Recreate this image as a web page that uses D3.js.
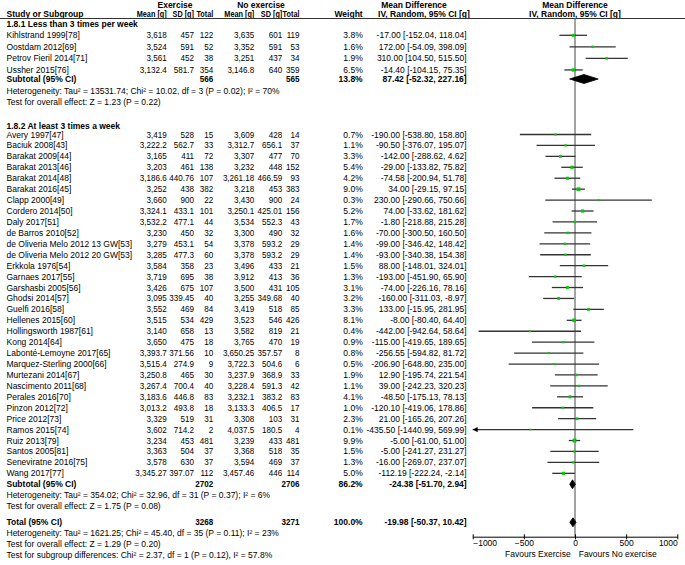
<!DOCTYPE html>
<html>
<head>
<meta charset="utf-8">
<script src="https://cdn.jsdelivr.net/npm/d3@7"></script>
<style>
  html, body { margin: 0; padding: 0; background: #fff; }
  svg text { font-family: "Liberation Sans", Arial, sans-serif; font-size: 8.5px; fill: #000; }
</style>
</head>
<body>
<svg id="chart" width="685" height="565"></svg>
<script>
// ---------------- DATA ----------------
const groupTitles = ["1.8.1 Less than 3 times per week", "1.8.2 At least 3 times a week"];
const studyGroup = [0,0,0,0, 1,1,1,1,1,1,1,1,1,1,1,1,1,1,1,1,1,1,1,1,1,1,1,1,1,1,1,1,1,1,1,1];
const studyNames = [
  "Kihlstrand 1999[78]", "Oostdam 2012[69]", "Petrov Fieril 2014[71]", "Ussher 2015[76]",
  "Avery 1997[47]", "Baciuk 2008[43]", "Barakat 2009[44]", "Barakat 2013[46]", "Barakat 2014[48]",
  "Barakat 2016[45]", "Clapp 2000[49]", "Cordero 2014[50]", "Daly 2017[51]", "de Barros 2010[52]",
  "de Oliveria Melo 2012 13 GW[53]", "de Oliveria Melo 2012 20 GW[53]", "Erkkola 1976[54]",
  "Garnaes 2017[55]", "Garshasbi 2005[56]", "Ghodsi 2014[57]", "Guelfi 2016[58]", "Hellenes 2015[60]",
  "Hollingsworth 1987[61]", "Kong 2014[64]", "Labonté-Lemoyne 2017[65]", "Marquez-Sterling 2000[66]",
  "Murtezani 2014[67]", "Nascimento 2011[68]", "Perales 2016[70]", "Pinzon 2012[72]", "Price 2012[73]",
  "Ramos 2015[74]", "Ruiz 2013[79]", "Santos 2005[81]", "Seneviratne 2016[75]", "Wang 2017[77]"
];
const exMean = [3618, 3524, 3561, 3132.4,
  3419, 3222.2, 3165, 3203, 3186.6, 3252, 3660, 3324.1, 3532.2, 3230, 3279, 3285, 3584,
  3719, 3426, 3095, 3552, 3515, 3140, 3650, 3393.7, 3515.4, 3250.8, 3267.4, 3183.6, 3013.2, 3329,
  3602, 3234, 3363, 3578, 3345.27];
const exSD = [457, 591, 452, 581.7,
  528, 562.7, 411, 461, 440.76, 438, 900, 433.1, 477.1, 450, 453.1, 477.3, 358,
  695, 675, 339.45, 469, 534, 658, 475, 371.56, 274.9, 465, 700.4, 446.8, 493.8, 519,
  714.2, 453, 504, 630, 397.07];
const exN = [122, 52, 38, 354,
  15, 33, 72, 138, 107, 382, 22, 101, 44, 32, 54, 60, 23,
  38, 107, 40, 84, 429, 13, 18, 10, 9, 30, 40, 83, 18, 31,
  2, 481, 37, 37, 112];
const noMean = [3635, 3352, 3251, 3146.8,
  3609, 3312.7, 3307, 3232, 3261.18, 3218, 3430, 3250.1, 3534, 3300, 3378, 3378, 3496,
  3912, 3500, 3255, 3419, 3523, 3582, 3765, 3650.25, 3722.3, 3237.9, 3228.4, 3232.1, 3133.3, 3308,
  4037.5, 3239, 3368, 3594, 3457.46];
const noSD = [601, 591, 437, 640,
  428, 656.1, 477, 448, 466.59, 453, 900, 425.01, 552.3, 490, 593.2, 593.2, 433,
  413, 431, 349.68, 518, 546, 819, 470, 357.57, 504.6, 368.9, 591.3, 383.2, 406.5, 103,
  180.5, 433, 518, 469, 446];
const noN = [119, 53, 34, 359,
  14, 37, 70, 152, 93, 383, 24, 156, 43, 32, 29, 29, 21,
  36, 105, 40, 85, 426, 21, 19, 8, 6, 33, 42, 83, 17, 31,
  4, 481, 35, 37, 114];
const weights = [3.8, 1.6, 1.9, 6.5,
  0.7, 1.1, 3.3, 5.4, 4.2, 9.0, 0.3, 5.2, 1.7, 1.6, 1.4, 1.4, 1.5,
  1.3, 3.1, 3.2, 3.3, 8.1, 0.4, 0.9, 0.8, 0.5, 1.9, 1.1, 4.1, 1.0, 2.3,
  0.1, 9.9, 1.5, 1.3, 5.0];
const meanDiff = [-17.00, 172.00, 310.00, -14.40,
  -190.00, -90.50, -142.00, -29.00, -74.58, 34.00, 230.00, 74.00, -1.80, -70.00, -99.00, -93.00, 88.00,
  -193.00, -74.00, -160.00, 133.00, -8.00, -442.00, -115.00, -256.55, -206.90, 12.90, 39.00, -48.50, -120.10, 21.00,
  -435.50, -5.00, -5.00, -16.00, -112.19];
const ciLow = [-152.04, -54.09, 104.50, -104.15,
  -538.80, -376.07, -288.62, -133.82, -200.94, -29.15, -290.66, -33.62, -218.88, -300.50, -346.42, -340.38, -148.01,
  -451.90, -226.16, -311.03, -15.95, -80.40, -942.64, -419.65, -594.82, -648.80, -195.74, -242.23, -175.13, -419.06, -165.26,
  -1440.99, -61.00, -241.27, -269.07, -222.24];
const ciHigh = [118.04, 398.09, 515.50, 75.35,
  158.80, 195.07, 4.62, 75.82, 51.78, 97.15, 750.66, 181.62, 215.28, 160.50, 148.42, 154.38, 324.01,
  65.90, 78.16, -8.97, 281.95, 64.40, 58.64, 189.65, 81.72, 235.00, 221.54, 320.23, 78.13, 178.86, 207.26,
  569.99, 51.00, 231.27, 237.07, -2.14];

// Subtotals and total
const pooledLabels = ["Subtotal (95% CI)", "Subtotal (95% CI)", "Total (95% CI)"];
const pooledExN = [566, 2702, 3268];
const pooledNoN = [565, 2706, 3271];
const pooledWeight = [13.8, 86.2, 100.0];
const pooledMD = [87.42, -24.38, -19.98];
const pooledLow = [-52.32, -51.70, -50.37];
const pooledHigh = [227.16, 2.94, 10.42];
const pooledNotes = [
  ["Heterogeneity: Tau\u00B2 = 13531.74; Chi\u00B2 = 10.02, df = 3 (P = 0.02); I\u00B2 = 70%",
   "Test for overall effect: Z = 1.23 (P = 0.22)"],
  ["Heterogeneity: Tau\u00B2 = 354.02; Chi\u00B2 = 32.96, df = 31 (P = 0.37); I\u00B2 = 6%",
   "Test for overall effect: Z = 1.75 (P = 0.08)"],
  ["Heterogeneity: Tau\u00B2 = 1621.25; Chi\u00B2 = 45.40, df = 35 (P = 0.11); I\u00B2 = 23%",
   "Test for overall effect: Z = 1.29 (P = 0.20)",
   "Test for subgroup differences: Chi\u00B2 = 2.37, df = 1 (P = 0.12), I\u00B2 = 57.8%"]
];
const axisTicks = [-1000, -500, 0, 500, 1000];
const favoursLabels = ["Favours Exercise", "Favours No exercise"];

// ---------------- LAYOUT ----------------
const svg = d3.select("#chart");
const x = d3.scaleLinear().domain([-1000, 1000]).range([472.7, 677.3]);
const col = { name: 6.5, exMean: 166.7, exSD: 194, exN: 213.3, noMean: 254.3, noSD: 282.3, noN: 299.5, weight: 362.7, ci: 466.7 };
const fmtNum = d3.format(",");
const fmtCI = (m, l, h) => `${m.toFixed(2)} [${l.toFixed(2)}, ${h.toFixed(2)}]`;

function txt(xp, yc, s, anchor = "start", bold = false, sx = 1) {
  const t = svg.append("text")
    .attr("text-anchor", anchor)
    .style("font-weight", bold ? "bold" : "normal")
    .text(s);
  if (sx === 1) t.attr("x", xp).attr("y", yc + 3);
  else t.attr("transform", `translate(${xp},${yc + 3}) scale(${sx},1)`);
  return t;
}

// row centre positions
const g1Start = 35.3, g1Step = 11.55;
const g2Start = 134.5, g2Step = 10.93;
const rowY = studyGroup.map((g, i) => g === 0 ? g1Start + i * g1Step : g2Start + (i - 4) * g2Step);
const groupTitleY = [24, 126];
const pooledY = [79, 484.3, 522.3];
const notesY = [[91, 102], [495.3, 506.3], [533.3, 544.3, 555.3]];

// ---------------- HEADERS ----------------
txt(175, 5, "Exercise", "middle", true);
txt(261, 5, "No exercise", "middle", true);
txt(414, 5, "Mean Difference", "middle", true);
txt(575, 5, "Mean Difference", "middle", true);
txt(col.name, 14, "Study or Subgroup", "start", true);
const hs = 0.86;
txt(col.exMean, 14, "Mean [g]", "end", true, hs);
txt(col.exSD, 14, "SD [g]", "end", true, hs);
txt(col.exN, 14, "Total", "end", true, hs);
txt(col.noMean, 14, "Mean [g]", "end", true, hs);
txt(col.noSD, 14, "SD [g]", "end", true, hs);
txt(col.noN, 14, "Total", "end", true, hs);
txt(col.weight, 14, "Weight", "end", true);
txt(424, 14, "IV, Random, 95% CI [g]", "middle", true);
txt(575, 14, "IV, Random, 95% CI [g]", "middle", true);
svg.append("line").attr("x1", 0).attr("x2", 685).attr("y1", 18.5).attr("y2", 18.5)
  .attr("stroke", "#333").attr("stroke-width", 1);

// zero line
svg.append("line").attr("x1", x(0)).attr("x2", x(0)).attr("y1", 18.5).attr("y2", 536.7)
  .attr("stroke", "#666").attr("stroke-width", 1.2);

// group titles
groupTitles.forEach((t, i) => txt(col.name, groupTitleY[i], t, "start", true));

// ---------------- STUDY ROWS ----------------
const ns = 0.95;
studyNames.forEach((n, i) => {
  const y = rowY[i];
  txt(col.name, y, n);
  txt(col.exMean, y, fmtNum(exMean[i]), "end", false, ns);
  txt(col.exSD, y, fmtNum(exSD[i]), "end", false, ns);
  txt(col.exN, y, exN[i], "end", false, ns);
  txt(col.noMean, y, fmtNum(noMean[i]), "end", false, ns);
  txt(col.noSD, y, fmtNum(noSD[i]), "end", false, ns);
  txt(col.noN, y, noN[i], "end", false, ns);
  txt(col.weight, y, weights[i].toFixed(1) + "%", "end");
  txt(col.ci, y, fmtCI(meanDiff[i], ciLow[i], ciHigh[i]), "end");
});

const marks = svg.append("g");
studyNames.forEach((n, i) => {
  const y = rowY[i];
  const lo = Math.max(ciLow[i], -1000), hi = Math.min(ciHigh[i], 1000);
  marks.append("line").attr("x1", x(lo)).attr("x2", x(hi)).attr("y1", y).attr("y2", y)
    .attr("stroke", "#333").attr("stroke-width", 1.3);
  if (ciLow[i] < -1000) {
    const ax = x(-1000);
    marks.append("path").attr("d", `M${ax},${y}L${ax + 5},${y - 2.6}L${ax + 5},${y + 2.6}Z`).attr("fill", "#000");
  }
  const s = 1.5 + 0.75 * Math.sqrt(weights[i]);
  marks.append("rect").attr("x", x(meanDiff[i]) - s / 2).attr("y", y - s / 2)
    .attr("width", s).attr("height", s).attr("fill", "#00cc00");
});

// ---------------- POOLED ROWS ----------------
pooledLabels.forEach((lab, k) => {
  const y = pooledY[k];
  txt(col.name, y, lab, "start", true);
  txt(col.exN, y, pooledExN[k], "end", true, ns);
  txt(col.noN, y, pooledNoN[k], "end", true, ns);
  txt(col.weight, y, pooledWeight[k].toFixed(1) + "%", "end", true);
  txt(col.ci, y, fmtCI(pooledMD[k], pooledLow[k], pooledHigh[k]), "end", true);
  const h = 4.5;
  marks.append("path")
    .attr("d", `M${x(pooledLow[k])},${y}L${x(pooledMD[k])},${y - h}L${x(pooledHigh[k])},${y}L${x(pooledMD[k])},${y + h}Z`)
    .attr("fill", "#000").attr("stroke", "#000").attr("stroke-width", 0.8);
  pooledNotes[k].forEach((t, j) => txt(col.name, notesY[k][j], t));
});

// ---------------- AXIS ----------------
const axisY = 536.7;
const axis = d3.axisBottom(x).tickValues(axisTicks).tickSize(0).tickPadding(4).tickFormat(d3.format("d"));
const ag = svg.append("g").attr("transform", `translate(0,${axisY})`).call(axis);
ag.attr("font-size", null).attr("font-family", null);
ag.select(".domain").attr("stroke", "#000").attr("stroke-width", 1);
ag.selectAll(".tick line").remove();
ag.selectAll(".tick").append("line").attr("y1", -2.4).attr("y2", 2.6).attr("stroke", "#000").attr("stroke-width", 1);
ag.selectAll(".tick text").attr("y", 3.2).attr("dy", "0.71em").attr("fill", "#000")
  .attr("text-anchor", (d, i, n) => i === 0 ? "start" : (i === n.length - 1 ? "end" : "middle"));

txt(570.7, 553.7, favoursLabels[0], "end");
txt(578.7, 553.7, favoursLabels[1], "start");
</script>
</body>
</html>
